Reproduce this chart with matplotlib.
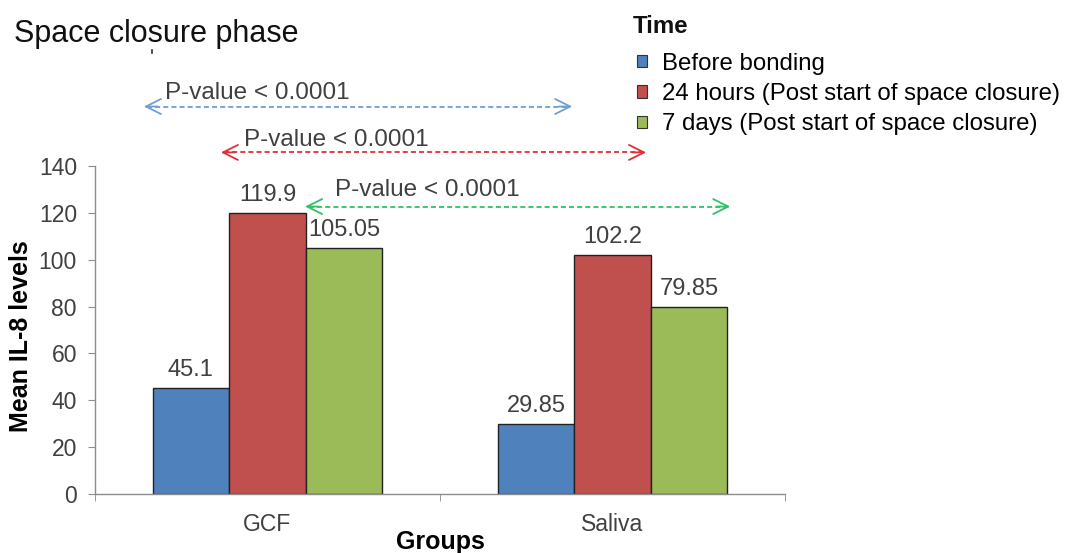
import matplotlib.pyplot as plt
from matplotlib.patches import Patch
from matplotlib.lines import Line2D
import numpy as np

plt.rcParams['font.family'] = ['Liberation Sans', 'DejaVu Sans']

# data
groups = ['GCF', 'Saliva']
series = ['Before bonding',
          '24 hours (Post start of space closure)',
          '7 days (Post start of space closure)']
before = [45.1, 29.85]
h24 = [119.9, 102.2]
d7 = [105.05, 79.85]
value_labels = [['45.1', '29.85'], ['119.9', '102.2'], ['105.05', '79.85']]
colors = ['#4F81BD', '#C0504D', '#9BBB59']

# significance arrows: (x start, x end, y) in data units, plus text anchor
arrow_spans = [(-0.358, 0.883, 165.4), (-0.135, 1.097, 145.8), (0.109, 1.341, 122.7)]
arrow_text_pos = [(-0.297, 168.6), (-0.068, 148.5), (0.196, 127.2)]
arrow_colors = ['#6F9ED6', '#E0303A', '#30C068']
ptext = 'P-value < 0.0001'

txt = '#404040'
fig = plt.figure(figsize=(10.67, 5.53), dpi=100)
ax = fig.add_axes([0.089, 0.1067, 0.6468, 0.5931])

x = np.arange(len(groups))
w = 0.222
for i, vals in enumerate([before, h24, d7]):
    bars = ax.bar(x + (i - 1) * w, vals, w, color=colors[i],
                  edgecolor='#222222', linewidth=1.0, label=series[i])
    ax.bar_label(bars, labels=value_labels[i], padding=5, fontsize=17, color=txt)

ax.set_xlim(-0.5, 1.5)
ax.set_ylim(0, 140)
ax.set_yticks(np.arange(0, 141, 20))
ax.set_xticks(x)
ax.set_xticklabels(groups)
ax.set_xticks([-0.5, 0.5, 1.5], minor=True)
ax.tick_params(axis='x', which='major', length=0, pad=14, labelsize=16.5, labelcolor=txt)
ax.tick_params(axis='x', which='minor', length=5, color='#8c8c8c', direction='out')
ax.tick_params(axis='y', length=5, color='#8c8c8c', pad=8, labelsize=16.5, labelcolor=txt)

for s in ['top', 'right']:
    ax.spines[s].set_visible(False)
for s in ['left', 'bottom']:
    ax.spines[s].set_color('#8c8c8c')
    ax.spines[s].set_linewidth(1.0)

ax.set_ylabel('Mean IL-8 levels', fontsize=18, fontweight='bold')
ax.yaxis.set_label_coords(-0.09, 0.48)
ax.set_xlabel('Groups', fontsize=18, fontweight='bold')
ax.xaxis.set_label_coords(0.5, -0.11)

# p-value arrows
for (x0, x1, y), (tx, ty), c in zip(arrow_spans, arrow_text_pos, arrow_colors):
    ax.plot([x0 + 0.01, x1 - 0.01], [y, y], ls=(0, (2.8, 1.7)), color=c, lw=1.3,
            clip_on=False)
    for xe, xs in [(x0, x0 + 0.04), (x1, x1 - 0.04)]:
        ax.annotate('', xy=(xe, y), xytext=(xs, y), annotation_clip=False,
                    arrowprops=dict(arrowstyle='->, head_length=0.6, head_width=0.3',
                                    color=c, lw=1.3, mutation_scale=18,
                                    shrinkA=0, shrinkB=0))
    ax.text(tx, ty, ptext, fontsize=17.5, color=txt,
            ha='left', va='baseline', clip_on=False)

fig.text(0.0131, 0.924, 'Space closure phase', fontsize=22, color='#111111',
         ha='left', va='baseline')
fig.add_artist(Line2D([152 / 1067, 152 / 1067], [1 - 50 / 553, 1 - 53 / 553],
                      color='#333333', lw=1.2))

# legend
fig.text(633 / 1067, 1 - 33 / 553, 'Time', fontsize=17.3, fontweight='bold',
         color='#111111', ha='left', va='baseline')
handles = [Patch(facecolor=c, edgecolor='#333333', linewidth=0.8) for c in colors]
fig.legend(handles, series, loc='upper left', bbox_to_anchor=(0.588, 0.922),
           frameon=False, fontsize=17.3, handlelength=0.4, handleheight=0.4,
           handletextpad=0.65, labelspacing=0.345, borderaxespad=0)

fig.savefig('out.png', dpi=100)
